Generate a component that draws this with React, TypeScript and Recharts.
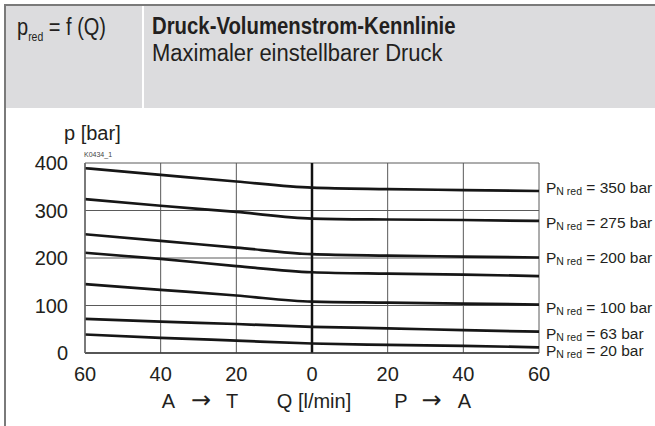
import { LineChart, Line, XAxis, YAxis, CartesianGrid, ReferenceLine, LabelList } from 'recharts'

// Flow in l/min: negative = A -> T (left half), positive = P -> A (right half)
const flow = [-60, -40, -20, 0, 20, 40, 60]
const flowTicks = [-60, -40, -20, 0, 20, 40, 60]
const pressureTicks = [0, 100, 200, 300, 400]

// Max. adjustable pressure p [bar]
const p350 = [389, 375, 361, 348, 345, 343, 341]
const p275 = [324, 310, 297, 283, 281, 280, 278]
const p200 = [250, 236, 222, 208, 205, 203, 201]
const pUnlabeled = [211, 198, 183, 170, 167, 165, 162]
const p100 = [145, 133, 121, 108, 106, 104, 102]
const p63 = [72, 66, 61, 55, 52, 48, 45]
const p20 = [39, 32, 26, 20, 17, 15, 12]

const curveKeys = ['p350', 'p275', 'p200', 'pUnlabeled', 'p100', 'p63', 'p20']
const curveValues = [p350, p275, p200, pUnlabeled, p100, p63, p20]
const curveNames: Record<string, string> = {
  p350: '350 bar',
  p275: '275 bar',
  p200: '200 bar',
  p100: '100 bar',
  p63: '63 bar',
  p20: '20 bar',
}

// baseline of the end label relative to the curve end (the labels are hand placed in the original)
const LABEL_DY: Record<string, number> = {
  p350: 2,
  p275: 7,
  p200: 5,
  p100: 8.5,
  p63: 7.5,
  p20: 8.5,
}

const data = flow.map((q, i) => {
  const row: Record<string, number> = { q }
  curveKeys.forEach((k, j) => {
    row[k] = curveValues[j][i]
  })
  return row
})

const FONT = '"Liberation Sans", Arial, Helvetica, sans-serif'
const INK = '#231f20'
const GRID = '#5a5a5a'

function EndLabel(props: any, key: string) {
  const { x, y, index } = props
  if (index !== flow.length - 1) return null
  const dy = LABEL_DY[key] ?? 6
  return (
    <text x={x + 7} y={y + dy} fill={INK} fontFamily={FONT} fontSize={15.5}>
      <tspan>P</tspan>
      <tspan fontSize={10.5} dy={2}>N red</tspan>
      <tspan dy={-2}>{` = ${curveNames[key]}`}</tspan>
    </text>
  )
}

function AxisCaption({ viewBox }: any) {
  if (!viewBox) return null
  const { x, y } = viewBox
  const base = y + 55
  const t = { fill: INK, fontFamily: FONT, fontSize: 20, textAnchor: 'middle' as const }
  const arrow = { ...t, fontFamily: '"DejaVu Sans", sans-serif', fontSize: 24 }
  return (
    <g>
      <text x={x + 83.5} y={base} {...t}>A</text>
      <text x={x + 116} y={base} {...arrow}>→</text>
      <text x={x + 147} y={base} {...t}>T</text>
      <text x={x + 229} y={base} {...t}>Q [l/min]</text>
      <text x={x + 316} y={base} {...t}>P</text>
      <text x={x + 346.5} y={base} {...arrow}>→</text>
      <text x={x + 379.5} y={base} {...t}>A</text>
    </g>
  )
}

export default function App() {
  return (
    <div
      style={{
        position: 'absolute',
        left: 0,
        top: 0,
        width: 655,
        height: 426,
        background: '#fff',
        overflow: 'hidden',
        fontFamily: FONT,
        color: INK,
      }}
    >
      {/* header band */}
      <div style={{ position: 'absolute', left: 5, top: 6, width: 650, height: 102, background: '#dcdcde' }} />
      <div style={{ position: 'absolute', left: 142, top: 6, width: 2, height: 102, background: '#fff' }} />
      <div style={{ position: 'absolute', left: 4, top: 4, width: 651, height: 2, background: '#7a7a7a' }} />
      <div style={{ position: 'absolute', left: 4, top: 4, width: 2, height: 422, background: '#7a7a7a' }} />

      <div
        style={{
          position: 'absolute',
          left: 17,
          top: 16,
          fontSize: 23,
          lineHeight: '23px',
          whiteSpace: 'nowrap',
          transform: 'scaleX(0.87)',
          transformOrigin: '0 0',
        }}
      >
        p<span style={{ fontSize: 12, position: 'relative', top: 6 }}>red</span> = f (Q)
      </div>
      <div
        style={{
          position: 'absolute',
          left: 152,
          top: 15,
          fontSize: 23,
          lineHeight: '23px',
          fontWeight: 'bold',
          whiteSpace: 'nowrap',
          transform: 'scaleX(0.884)',
          transformOrigin: '0 0',
        }}
      >
        Druck-Volumenstrom-Kennlinie
      </div>
      <div
        style={{
          position: 'absolute',
          left: 152,
          top: 42,
          fontSize: 23,
          lineHeight: '23px',
          whiteSpace: 'nowrap',
          transform: 'scaleX(0.955)',
          transformOrigin: '0 0',
        }}
      >
        Maximaler einstellbarer Druck
      </div>

      <div style={{ position: 'absolute', left: 64, top: 123, fontSize: 20, lineHeight: '20px', whiteSpace: 'nowrap' }}>
        p [bar]
      </div>
      <div style={{ position: 'absolute', left: 84, top: 151, fontSize: 7, lineHeight: '7px', color: '#444', whiteSpace: 'nowrap' }}>
        K0434_1
      </div>

      <div style={{ position: 'absolute', left: 0, top: 0 }}>
        <LineChart width={655} height={426} data={data} margin={{ top: 163, right: 116, bottom: 23, left: 25 }}>
          <CartesianGrid stroke={GRID} strokeWidth={1} />
          <XAxis
            dataKey="q"
            type="number"
            domain={[-60, 60]}
            ticks={flowTicks}
            tickFormatter={(v: number) => String(Math.abs(v))}
            height={50}
            tickLine={false}
            tickSize={6}
            tickMargin={8}
            axisLine={{ stroke: '#3a3a3a', strokeWidth: 1.5 }}
            tick={{ fill: INK, fontSize: 20, fontFamily: FONT }}
            interval={0}
            label={{ content: (p: any) => <AxisCaption viewBox={p.viewBox} /> }}
          />
          <YAxis
            type="number"
            domain={[0, 400]}
            ticks={pressureTicks}
            width={60}
            tickLine={false}
            tickSize={6}
            tickMargin={11}
            axisLine={{ stroke: '#6a6a6a', strokeWidth: 1.5 }}
            tick={{ fill: INK, fontSize: 20, fontFamily: FONT }}
            interval={0}
          />
          <ReferenceLine x={0} stroke="#111" strokeWidth={2.5} />
          {curveKeys.map(k => (
            <Line
              key={k}
              dataKey={k}
              type="monotone"
              stroke="#161616"
              strokeWidth={2.7}
              dot={false}
              activeDot={false}
              isAnimationActive={false}
            >
              {curveNames[k] && <LabelList dataKey={k} content={(p: any) => EndLabel(p, k)} />}
            </Line>
          ))}
        </LineChart>
      </div>
    </div>
  )
}
